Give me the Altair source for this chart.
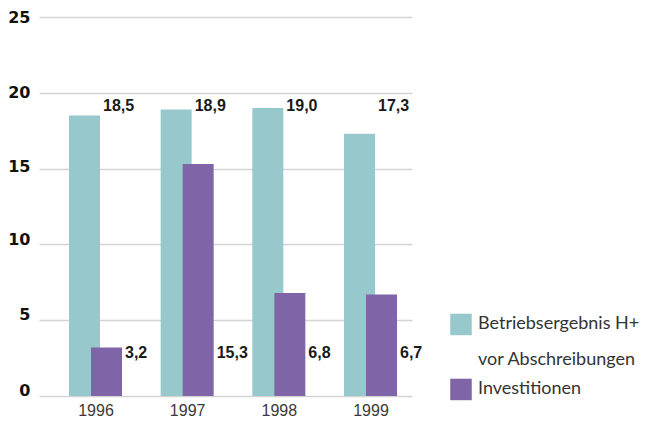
import altair as alt
import pandas as pd

years = ["1996", "1997", "1998", "1999"]
betriebsergebnis = [18.5, 18.9, 19.0, 17.3]
investitionen = [3.2, 15.3, 6.8, 6.7]
series_names = ["Betriebsergebnis H+ vor Abschreibungen", "Investitionen"]
y_ticks = [0, 5, 10, 15, 20, 25]

TEAL = "#97c8cb"
PURPLE = "#7f65a7"

rows = []
for yr, b, inv in zip(years, betriebsergebnis, investitionen):
    rows.append({"year": yr, "series": series_names[0], "value": b})
    rows.append({"year": yr, "series": series_names[1], "value": inv})
df = pd.DataFrame(rows)

base = alt.Chart(df).transform_calculate(
    label="replace(format(datum.value, '.1f'), '.', ',')"
)

x_enc = alt.X(
    "year:N",
    sort=years,
    title=None,
    scale=alt.Scale(type="point", padding=0.5346, align=0.5765),
    axis=alt.Axis(
        domain=False, ticks=False, grid=False, labelAngle=0,
        labelFont="Liberation Sans", labelFontSize=16, labelColor="#3a3a3a",
        labelPadding=6, labelBaseline="top",
    ),
)
y_enc = alt.Y(
    "value:Q",
    title=None,
    scale=alt.Scale(domain=[0, 25], nice=False, zero=True),
    axis=alt.Axis(
        values=y_ticks, domain=False, ticks=False, grid=True,
        gridColor="#d4d4d4", gridWidth=1.5,
        labelFont="DejaVu Sans", labelFontSize=16, labelFontWeight="bold",
        labelColor="#111111", labelPadding=9, labelBaseline="middle",
        labelOffset={
            "condition": [
                {"test": "datum.value == 15", "value": -2.5},
                {"test": "datum.value == 10", "value": -5},
                {"test": "datum.value <= 5", "value": -5.5},
            ],
            "value": 0,
        },
    ),
)
color_enc = alt.Color(
    "series:N",
    scale=alt.Scale(domain=series_names, range=[TEAL, PURPLE]),
    legend=alt.Legend(
        title=None, orient="none", legendX=411, legendY=287, padding=0,
        symbolType="M-1,-0.12H1V1.88H-1Z", symbolSize=462, symbolStrokeWidth=0,
        symbolOpacity=1, labelOffset=6, labelFont="Lato", labelFontSize=18,
        labelColor="#333333", labelBaseline="top", labelLimit=0, rowPadding=0,
        labelExpr="datum.label == 'Betriebsergebnis H+ vor Abschreibungen' ? ['Betriebsergebnis H+', 'vor Abschreibungen'] : datum.label",
    ),
)

teal = base.transform_filter(alt.datum.series == series_names[0])
purple = base.transform_filter(alt.datum.series == series_names[1])

teal_bars = teal.mark_bar(width=31, xOffset=-11).encode(x=x_enc, y=y_enc, color=color_enc)
purple_bars = purple.mark_bar(width=31, xOffset=11).encode(x=x_enc, y=y_enc, color=color_enc)

label_style = dict(align="left", baseline="middle", font="Liberation Sans",
                   fontSize=16, fontWeight="bold", color="#1a1a1a")
teal_labels = teal.mark_text(dx=7.5, **label_style).encode(
    x=x_enc, y=alt.value(89), text="label:N"
)
purple_labels = purple.mark_text(dx=29.5, **label_style).encode(
    x=x_enc, y=alt.value(335.5), text="label:N"
)

chart = alt.layer(teal_bars, purple_bars, teal_labels, purple_labels).properties(
    width=373, height=379,
    padding={"left": 31, "top": 9, "right": 230, "bottom": 22},
    autosize=alt.AutoSizeParams(type="none"),
    background="white",
).configure(
    style={"guide-label": {"lineHeight": 36}},
    view=alt.ViewConfig(stroke=None),
)

chart.save("out.html", embed_options={"renderer": "svg", "actions": False})
